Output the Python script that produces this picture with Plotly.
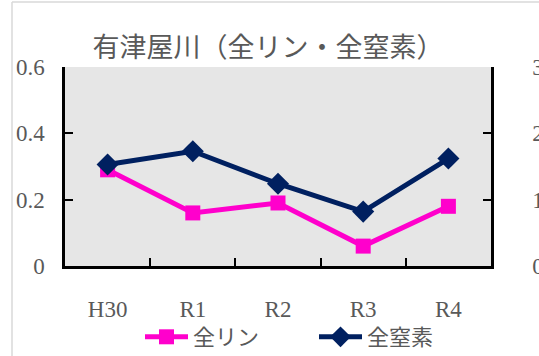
import plotly.graph_objects as go

# Yearly survey results for 有津屋川
years = ["H30", "R1", "R2", "R3", "R4"]
total_p = [0.29, 0.16, 0.19, 0.06, 0.18]   # 全リン (left axis)
total_n = [1.53, 1.73, 1.24, 0.82, 1.62]   # 全窒素 (right axis)

left_ticks = [0, 0.2, 0.4, 0.6]
right_ticks = [0, 1, 2, 3]

PINK = "#FF00CC"
NAVY = "#002060"
GRAY = "#595959"
NUM_FONT = "Liberation Serif"
JP_FONT = "Noto Sans CJK JP"

W, H = 539, 356
ML, MR, MT, MB = 65, 48, 67, 90

fig = go.Figure()
fig.add_trace(go.Scatter(
    x=years, y=total_p, name="全リン", mode="lines+markers",
    line=dict(color=PINK, width=5),
    marker=dict(symbol="square", size=15, color=PINK),
    yaxis="y",
))
fig.add_trace(go.Scatter(
    x=years, y=total_n, name="全窒素", mode="lines+markers",
    line=dict(color=NAVY, width=5),
    marker=dict(symbol="diamond", size=17, color=NAVY),
    yaxis="y2",
))

axis_common = dict(
    showline=True, linecolor="black", linewidth=2.5, mirror=False,
    ticks="inside", ticklen=8, tickwidth=2, tickcolor="black",
    showgrid=False, zeroline=False, automargin=False,
    tickfont=dict(family=NUM_FONT, size=23, color=GRAY),
)

pw = W - ML - MR
ph = H - MT - MB

fig.update_layout(
    width=W, height=H,
    margin=dict(l=ML, r=MR, t=MT, b=MB, autoexpand=False),
    paper_bgcolor="white",
    plot_bgcolor="#E6E6E6",
    title=dict(
        text="有津屋川（全リン・全窒素）",
        font=dict(family=JP_FONT, size=27, color=GRAY),
        xref="paper", x=(268 - ML) / pw, xanchor="center",
        yref="container", y=1 - 48 / H, yanchor="middle",
        automargin=False,
    ),
    xaxis=dict(
        axis_common, type="category", range=[-0.5, 4.5],
        tickson="boundaries", ticklabelstandoff=21,
    ),
    yaxis=dict(
        axis_common, range=[0, 0.6], tickvals=left_ticks,
        ticktext=[f"{v:g}" for v in left_ticks], ticklabelstandoff=13,
    ),
    yaxis2=dict(
        axis_common, range=[0, 3], tickvals=right_ticks,
        ticktext=[str(v) for v in right_ticks],
        overlaying="y", side="right", ticklabelstandoff=34,
    ),
    showlegend=True,
    legend=dict(
        orientation="h", x=(140 - ML) / pw, xanchor="left",
        y=(H - MB - 337) / ph, yanchor="middle",
        font=dict(family=JP_FONT, size=22, color=GRAY),
        itemwidth=43, entrywidth=116, bgcolor="rgba(0,0,0,0)",
    ),
    shapes=[
        # outer chart frame (left and top edges)
        dict(type="line", xref="paper", yref="paper",
             x0=(12 - ML) / pw, x1=(12 - ML) / pw,
             y0=(H - MB - H - 5) / ph, y1=(H - MB - 2) / ph,
             line=dict(color="#D9D9D9", width=1.5)),
        dict(type="line", xref="paper", yref="paper",
             x0=(12 - ML) / pw, x1=(W + 5 - ML) / pw,
             y0=(H - MB - 2) / ph, y1=(H - MB - 2) / ph,
             line=dict(color="#D9D9D9", width=1.5)),
    ],
)

fig.write_html("out.html")
